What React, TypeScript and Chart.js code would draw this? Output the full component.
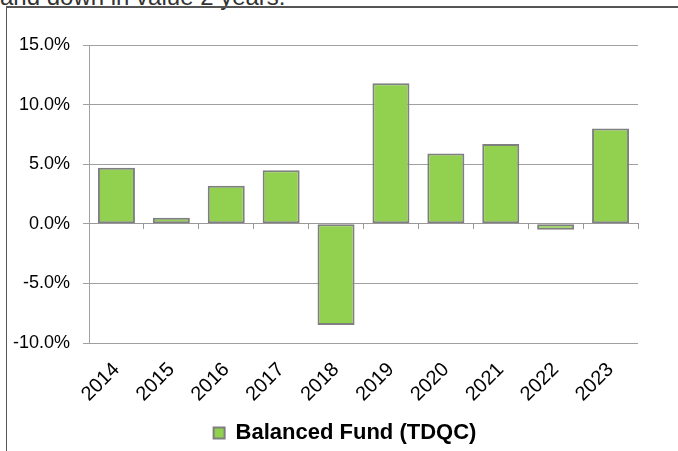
import React, { useEffect, useRef } from "react";
import { Chart, registerables } from "chart.js";

Chart.register(...registerables);

const years = ["2014", "2015", "2016", "2017", "2018", "2019", "2020", "2021", "2022", "2023"];
const returns = [4.7, 0.5, 3.2, 4.5, -8.5, 11.8, 5.9, 6.7, -0.5, 8.0];
const seriesLabel = "Balanced Fund (TDQC)";
const yMin = -10;
const yMax = 15;
const yStep = 5;
const headerText = "and down in value 2 years.";

// Excel centres its legend on the full chart frame, which continues past the crop on the right.
const legendShift = {
  id: "legendShift",
  afterLayout(chart: any) {
    const lg = chart.legend;
    if (lg) {
      lg.left += 26;
      lg.right += 26;
    }
  },
};

export default function App() {
  const ref = useRef<HTMLCanvasElement | null>(null);

  useEffect(() => {
    if (!ref.current) return;
    const chart = new Chart(ref.current, {
      type: "bar",
      data: {
        labels: years,
        datasets: [
          {
            label: seriesLabel,
            data: returns,
            backgroundColor: "#92D050",
            borderColor: "#7F7F7F",
            borderWidth: 2,
            borderSkipped: false,
            categoryPercentage: 1,
            barPercentage: 0.674,
            xAxisID: "x",
          },
        ],
      },
      plugins: [legendShift],
      options: {
        responsive: false,
        animation: false,
        devicePixelRatio: 1,
        layout: { padding: { left: 0, right: 40, top: 45, bottom: -3 } },
        plugins: {
          tooltip: { enabled: false },
          legend: {
            position: "bottom",
            labels: {
              boxWidth: 11,
              boxHeight: 11,
              padding: 2,
              color: "#000",
              font: { family: "'Liberation Sans', Arial, sans-serif", size: 22, weight: "bold" },
            },
          },
        },
        scales: {
          x: {
            type: "category",
            position: "bottom",
            offset: true,
            grid: { display: false, offset: true },
            border: { display: false },
            ticks: {
              minRotation: 45,
              maxRotation: 45,
              autoSkip: false,
              padding: 7,
              color: "#000",
              font: { family: "'Liberation Sans', Arial, sans-serif", size: 20 },
            },
            afterFit: (scale: any) => {
              scale.height = 77;
            },
          },
          x2: {
            type: "category",
            labels: years,
            position: { y: 0 } as any,
            offset: true,
            grid: {
              offset: true,
              drawOnChartArea: false,
              drawTicks: true,
              tickLength: 5,
              color: "#999",
              lineWidth: 1,
            },
            border: { display: true, color: "#999", width: 1 },
            ticks: { display: false },
          },
          y: {
            min: yMin,
            max: yMax,
            ticks: {
              stepSize: yStep,
              padding: 13,
              color: "#000",
              font: { family: "'Liberation Sans', Arial, sans-serif", size: 18 },
              callback: (v: any) => Number(v).toFixed(1) + "%",
            },
            grid: { color: "#A0A0A0", lineWidth: 1, tickLength: 6 },
            border: { display: true, color: "#A0A0A0", width: 1 },
            afterFit: (scale: any) => {
              scale.width = 89;
            },
          },
        },
      },
    });
    return () => chart.destroy();
  }, []);

  return (
    <div style={{ position: "fixed", left: 0, top: 0, width: 678, height: 451, overflow: "hidden", background: "#fff" }}>
      <div
        style={{
          position: "absolute",
          left: 0,
          top: -15,
          fontFamily: "'Liberation Sans', Arial, sans-serif",
          fontSize: 24,
          lineHeight: "24px",
          color: "#333",
          whiteSpace: "nowrap",
        }}
      >
        {headerText}
      </div>
      <div
        style={{
          position: "absolute",
          left: 6,
          top: 6,
          width: 700,
          height: 500,
          borderLeft: "1px solid #555",
          borderTop: "2px solid #555",
        }}
      />
      <canvas ref={ref} width={678} height={451} style={{ position: "absolute", left: 0, top: 0 }} />
    </div>
  );
}
